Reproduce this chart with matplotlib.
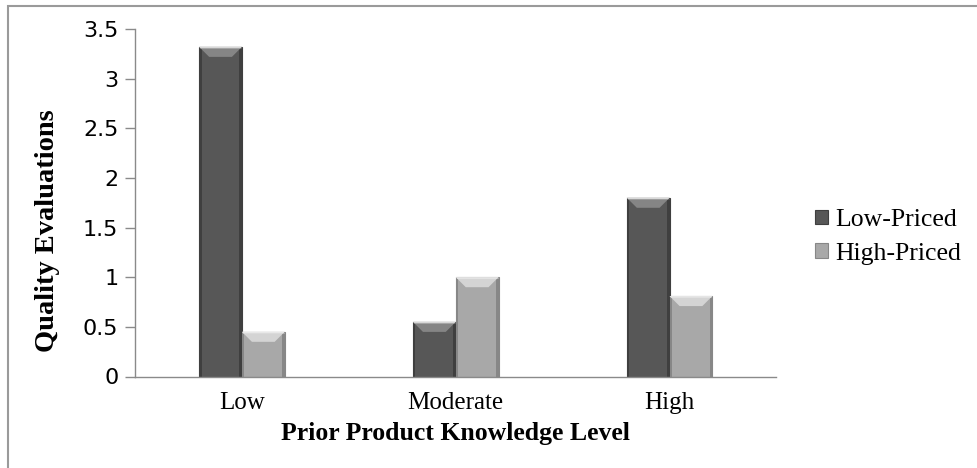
import matplotlib
matplotlib.use("Agg")
import matplotlib.pyplot as plt
from matplotlib.patches import Polygon, Rectangle
import numpy as np

# Data
categories = ["Low", "Moderate", "High"]
series_names = ["Low-Priced", "High-Priced"]
low_priced = [3.32, 0.55, 1.80]
high_priced = [0.45, 1.00, 0.81]
y_ticks = [0, 0.5, 1, 1.5, 2, 2.5, 3, 3.5]
y_tick_labels = ["0", "0.5", "1", "1.5", "2", "2.5", "3", "3.5"]

face_colors = ["#575757", "#a8a8a8"]
bevel_top = ["#858585", "#d4d4d4"]
bevel_side = ["#3f3f3f", "#878787"]

W, H = 978, 468
fig = plt.figure(figsize=(W / 100, H / 100), dpi=100)
ax = fig.add_axes([135 / W, 1 - 376.5 / H, (776.5 - 135) / W, (376.5 - 29) / H])

x = np.arange(len(categories))
width = 0.2
bars = []
for i, vals in enumerate([low_priced, high_priced]):
    offs = (i - 0.5) * width
    b = ax.bar(x + offs, vals, width, color=face_colors[i], edgecolor=bevel_side[i],
               linewidth=0.8, label=series_names[i], zorder=2)
    bars.append(b)

ax.set_xlim(-0.5, 2.5)
ax.set_ylim(0, 3.5)

# Bevelled edges on every bar, sized in pixels
fig.canvas.draw()
to_px = ax.transData
to_data = ax.transData.inverted()
bev = 10.0
side = 2.5
for i, b in enumerate(bars):
    for r in b.patches:
        x0, y0 = r.get_x(), r.get_y()
        x1, y1 = x0 + r.get_width(), y0 + r.get_height()
        (px0, py0), (px1, py1) = to_px.transform([(x0, y0), (x1, y1)])
        pts = [(px0, py1), (px1, py1), (px1 - bev, py1 - bev), (px0 + bev, py1 - bev)]
        ax.add_patch(Polygon(to_data.transform(pts), closed=True, facecolor=bevel_top[i],
                             edgecolor="none", zorder=3))
        hl = [(px0, py1), (px1, py1), (px1 - 1.5, py1 - 1.5), (px0 + 1.5, py1 - 1.5)]
        ax.add_patch(Polygon(to_data.transform(hl), closed=True, facecolor="#eeeeee",
                             edgecolor="none", zorder=3.5, alpha=0.8))
        for sx0, sx1 in [(px0, px0 + side), (px1 - side, px1)]:
            s = [(sx0, py0), (sx1, py0), (sx1, py1 - 2), (sx0, py1 - 2)]
            ax.add_patch(Polygon(to_data.transform(s), closed=True, facecolor=bevel_side[i],
                                 edgecolor="none", zorder=2.5))

spine_color = "#8a8a8a"
for s in ["top", "right"]:
    ax.spines[s].set_visible(False)
for s in ["left", "bottom"]:
    ax.spines[s].set_color(spine_color)
    ax.spines[s].set_linewidth(1.0)

ax.set_yticks(y_ticks)
ax.set_yticklabels(y_tick_labels, fontfamily="DejaVu Sans", fontsize=16)
ax.tick_params(axis="y", direction="out", length=7, width=1.0, color=spine_color, pad=5)
ax.set_xticks(x)
ax.set_xticklabels(categories, fontfamily="Liberation Serif", fontsize=18)
ax.tick_params(axis="x", length=0, pad=11)

ax.set_xlabel("Prior Product Knowledge Level", fontfamily="Liberation Serif",
              fontweight="bold", fontsize=18.5, labelpad=6)
ax.set_ylabel("Quality Evaluations", fontfamily="Liberation Serif",
              fontweight="bold", fontsize=20.5)
ax.yaxis.set_label_coords(-0.117, 0.42)

leg = fig.legend(handles=[bars[0], bars[1]], labels=series_names, loc="center left",
                 bbox_to_anchor=(815 / W, 1 - 237 / H), frameon=False,
                 prop={"family": "Liberation Serif", "size": 18.5},
                 handlelength=0.5, handleheight=0.5, handletextpad=0.3, labelspacing=0.45,
                 borderpad=0, borderaxespad=0)

# Outer chart border
fig.patches.append(Rectangle((8 / W, -0.05), 1.2, 1 - 6 / H + 0.05, transform=fig.transFigure,
                             facecolor="none", edgecolor="#9a9a9a", linewidth=1.5))

fig.savefig("out.png", dpi=100)
